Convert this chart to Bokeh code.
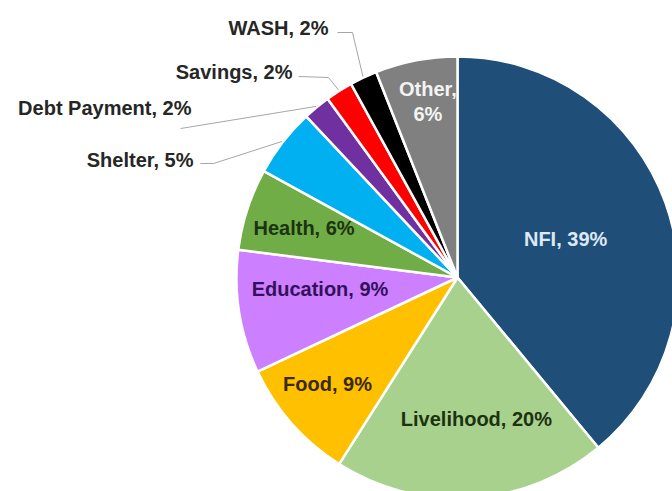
import math
from bokeh.plotting import figure
from bokeh.models import Range1d, ColumnDataSource
from bokeh.core.properties import value
from bokeh.embed import file_html
from bokeh.resources import INLINE

# ---- data ----
categories = ["NFI", "Livelihood", "Food", "Education", "Health",
              "Shelter", "Debt Payment", "Savings", "WASH", "Other"]
shares = [39, 20, 9, 9, 6, 5, 2, 2, 2, 6]
colors = ["#1f4e79", "#a9d18e", "#ffc000", "#cc80ff", "#70ad47",
          "#00b0f0", "#7030a0", "#ff0000", "#000000", "#808080"]

# ---- layout (pixel coordinates, y downward) ----
W, H = 672, 491
CX, CY, R = 457, 277, 221
FONT = "Liberation Sans"
FSIZE = "20px"

inside = {  # name: (radius fraction, nudge x, nudge y, text colour)
    "NFI": (0.52, 0, 0, "#dde9f5"),
    "Livelihood": (0.64, 10, 0, "#1c3310"),
    "Food": (0.76, -4, -5, "#3a2800"),
    "Education": (0.63, 0, -10, "#35105a"),
    "Health": (0.73, 0, 0, "#1c3310"),
    "Other": (0.81, 4, 0, "#f4f4f4"),
}
outside = {  # name: (text right x, text y, leader points before the slice)
    "Shelter": (193, 159, [(200, 163), (213, 163)]),
    "Debt Payment": (191, 107, [(180, 128)]),
    "Savings": (292, 71, [(298, 76), (328, 77)]),
    "WASH": (328, 27, [(337, 32), (352, 32)]),
}


def dy(py):
    return H - py


total = float(sum(shares))
start_a, end_a, mid_a = [], [], []
cum = 0.0
for s in shares:
    f0 = cum / total
    cum += s
    f1 = cum / total
    start_a.append(math.pi / 2 - 2 * math.pi * f0)
    end_a.append(math.pi / 2 - 2 * math.pi * f1)
    mid_a.append(math.pi / 2 - 2 * math.pi * (f0 + f1) / 2)

p = figure(width=W, height=H, output_backend="svg", toolbar_location=None,
           x_range=Range1d(0, W), y_range=Range1d(0, H), min_border=0)
p.axis.visible = False
p.grid.visible = False
p.outline_line_color = None
p.background_fill_color = "white"
p.border_fill_color = "white"

src = ColumnDataSource(dict(start=start_a, end=end_a, color=colors,
                            cat=categories))
p.wedge(x=CX, y=dy(CY), radius=R, start_angle="start", end_angle="end",
        direction="clock", fill_color="color", line_color="white",
        line_width=2.5, source=src)

# inside labels
for i, name in enumerate(categories):
    if name in inside:
        rf, nx, ny, tc = inside[name]
        a = mid_a[i]
        px = CX + rf * R * math.cos(a) + nx
        py = CY - rf * R * math.sin(a) + ny
        txt = f"{name}, {shares[i]}%"
        if name == "Other":
            txt = f"{name},\n{shares[i]}%"
        p.text(x=[px], y=[dy(py)], text=[txt], text_align="center",
               text_baseline="middle", text_font=value(FONT),
               text_font_style="bold", text_font_size=FSIZE, text_color=tc,
               text_line_height=1.15)

# outside labels with leader lines
for i, name in enumerate(categories):
    if name in outside:
        tx, ty, pts = outside[name]
        a = mid_a[i]
        ex = CX + (R + 1) * math.cos(a)
        ey = CY - (R + 1) * math.sin(a)
        xs = [q[0] for q in pts] + [ex]
        ys = [dy(q[1]) for q in pts] + [dy(ey)]
        p.line(xs, ys, line_color="#a6a6a6", line_width=1)
        p.text(x=[tx], y=[dy(ty)], text=[f"{name}, {shares[i]}%"],
               text_align="right", text_baseline="middle",
               text_font=value(FONT), text_font_style="bold",
               text_font_size=FSIZE, text_color="#262626")

open("out.html", "w").write(file_html(p, INLINE))
